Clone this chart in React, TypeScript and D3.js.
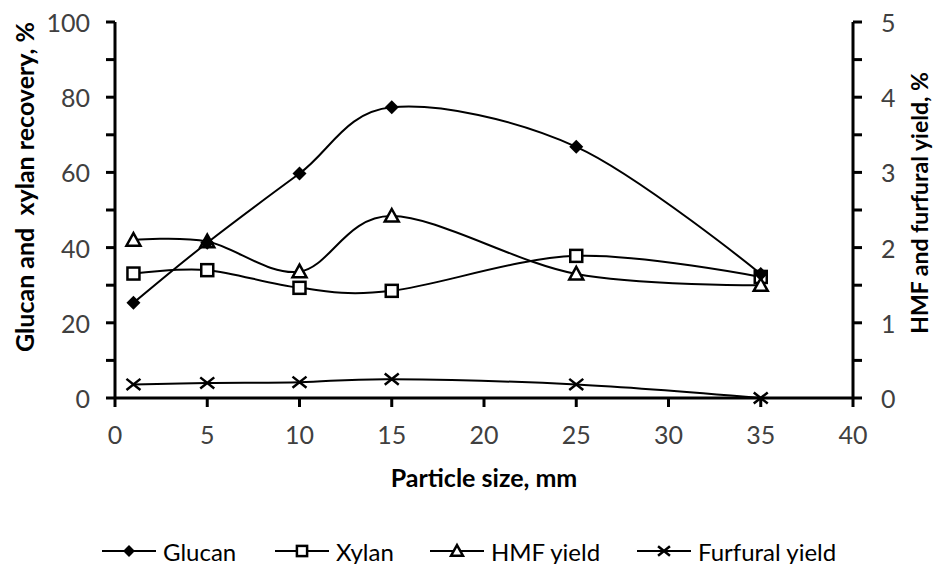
import { useEffect, useRef } from "react"
import * as d3 from "d3"

// particle size, mm
const sizes = [1, 5, 10, 15, 25, 35]
// recovery, % (left axis)
const glucan = [25.3, 41.3, 59.7, 77.3, 66.8, 33.0]
const xylan = [33.1, 34.0, 29.3, 28.5, 37.8, 32.2]
// yield, % (right axis)
const hmf = [2.1, 2.08, 1.68, 2.42, 1.65, 1.5]
const furfural = [0.18, 0.2, 0.21, 0.25, 0.18, 0.0]

const xTicks = [0, 5, 10, 15, 20, 25, 30, 35, 40]
const leftTicks = [0, 10, 20, 30, 40, 50, 60, 70, 80, 90, 100]
const rightTicks = [0, 0.5, 1, 1.5, 2, 2.5, 3, 3.5, 4, 4.5, 5]

const legendNames = ["Glucan", "Xylan", "HMF yield", "Furfural yield"]
const legendX = [102, 275, 430, 637]

const W = 934
const H = 564
const FONT = "Lato, 'Open Sans', sans-serif"

type Marker = "diamond" | "square" | "triangle" | "cross"

export default function App() {
  const svgRef = useRef<SVGSVGElement>(null)

  useEffect(() => {
    if (!svgRef.current) return
    const svg = d3.select(svgRef.current)
    svg.selectAll("*").remove()

    const plot = { left: 115, right: 853, top: 22, bottom: 398 }

    const x = d3.scaleLinear().domain([0, 40]).range([plot.left, plot.right])
    const yL = d3.scaleLinear().domain([0, 100]).range([plot.bottom, plot.top])
    const yR = d3.scaleLinear().domain([0, 5]).range([plot.bottom, plot.top])

    const g = svg.append("g")

    // axes lines
    const axisStroke = 3
    g.append("line")
      .attr("x1", plot.left).attr("x2", plot.left)
      .attr("y1", plot.top).attr("y2", plot.bottom)
      .attr("stroke", "#000").attr("stroke-width", axisStroke)
    g.append("line")
      .attr("x1", plot.right).attr("x2", plot.right)
      .attr("y1", plot.top).attr("y2", plot.bottom)
      .attr("stroke", "#000").attr("stroke-width", axisStroke)
    g.append("line")
      .attr("x1", plot.left).attr("x2", plot.right)
      .attr("y1", plot.bottom).attr("y2", plot.bottom)
      .attr("stroke", "#000").attr("stroke-width", axisStroke)

    // left ticks
    leftTicks.forEach((t) => {
      g.append("line")
        .attr("x1", plot.left - 9).attr("x2", plot.left)
        .attr("y1", yL(t)).attr("y2", yL(t))
        .attr("stroke", "#000").attr("stroke-width", axisStroke)
      if (t % 20 === 0) {
        g.append("text")
          .attr("x", plot.left - 25).attr("y", yL(t))
          .attr("text-anchor", "end")
          .attr("dominant-baseline", "central")
          .attr("font-family", FONT).attr("font-size", 25)
          .attr("fill", "#404040")
          .text(t)
      }
    })

    // right ticks
    rightTicks.forEach((t) => {
      g.append("line")
        .attr("x1", plot.right).attr("x2", plot.right + 9)
        .attr("y1", yR(t)).attr("y2", yR(t))
        .attr("stroke", "#000").attr("stroke-width", axisStroke)
      if (Number.isInteger(t)) {
        g.append("text")
          .attr("x", plot.right + 28).attr("y", yR(t))
          .attr("text-anchor", "start")
          .attr("dominant-baseline", "central")
          .attr("font-family", FONT).attr("font-size", 25)
          .attr("fill", "#404040")
          .text(t)
      }
    })

    // x ticks
    xTicks.forEach((t) => {
      g.append("line")
        .attr("x1", x(t)).attr("x2", x(t))
        .attr("y1", plot.bottom).attr("y2", plot.bottom + 9)
        .attr("stroke", "#000").attr("stroke-width", axisStroke)
      g.append("text")
        .attr("x", x(t)).attr("y", plot.bottom + 36)
        .attr("text-anchor", "middle")
        .attr("dominant-baseline", "central")
        .attr("font-family", FONT).attr("font-size", 25)
        .attr("fill", "#404040")
        .text(t)
    })

    // axis titles
    g.append("text")
      .attr("x", (plot.left + plot.right) / 2).attr("y", 477)
      .attr("text-anchor", "middle")
      .attr("dominant-baseline", "central")
      .attr("font-family", FONT).attr("font-size", 25).attr("font-weight", 700)
      .attr("fill", "#000")
      .text("Particle size, mm")

    g.append("text")
      .attr("transform", `translate(24,${(plot.top + plot.bottom) / 2 - 23}) rotate(-90)`)
      .attr("text-anchor", "middle")
      .attr("dominant-baseline", "central")
      .attr("font-family", FONT).attr("font-size", 25).attr("font-weight", 700)
      .attr("fill", "#000")
      .style("white-space", "pre")
      .text("Glucan and  xylan recovery, %")

    g.append("text")
      .attr("transform", `translate(919,${(plot.top + plot.bottom) / 2 - 7}) rotate(-90)`)
      .attr("text-anchor", "middle")
      .attr("dominant-baseline", "central")
      .attr("font-family", FONT).attr("font-size", 23).attr("font-weight", 700)
      .attr("fill", "#000")
      .text("HMF and furfural yield, %")

    const drawMarker = (sel: d3.Selection<SVGGElement, unknown, null, undefined>, m: Marker, cx: number, cy: number, s = 1) => {
      if (m === "diamond") {
        const r = 7 * s
        sel.append("path")
          .attr("d", `M${cx},${cy - r}L${cx + r},${cy}L${cx},${cy + r}L${cx - r},${cy}Z`)
          .attr("fill", "#000")
      } else if (m === "square") {
        const r = 6 * s
        sel.append("rect")
          .attr("x", cx - r).attr("y", cy - r)
          .attr("width", 2 * r).attr("height", 2 * r)
          .attr("fill", "#fff").attr("stroke", "#000").attr("stroke-width", 2.5)
      } else if (m === "triangle") {
        const r = 7 * s
        sel.append("path")
          .attr("d", `M${cx},${cy - r}L${cx + r},${cy + r * 0.8}L${cx - r},${cy + r * 0.8}Z`)
          .attr("fill", "#fff").attr("stroke", "#000").attr("stroke-width", 2.5)
      } else {
        const r = 7 * s
        sel.append("path")
          .attr("d", `M${cx - r},${cy - r * 0.8}L${cx + r},${cy + r * 0.8}M${cx - r},${cy + r * 0.8}L${cx + r},${cy - r * 0.8}`)
          .attr("fill", "none").attr("stroke", "#000").attr("stroke-width", 2.5)
      }
    }

    const series: { vals: number[]; y: d3.ScaleLinear<number, number>; m: Marker }[] = [
      { vals: furfural, y: yR, m: "cross" },
      { vals: xylan, y: yL, m: "square" },
      { vals: hmf, y: yR, m: "triangle" },
      { vals: glucan, y: yL, m: "diamond" },
    ]

    const line = d3.line<[number, number]>()
      .x((d) => d[0]).y((d) => d[1])
      .curve(d3.curveCardinal.tension(0))

    series.forEach((s) => {
      const pts: [number, number][] = sizes.map((v, i) => [x(v), s.y(s.vals[i])])
      g.append("path")
        .attr("d", line(pts))
        .attr("fill", "none").attr("stroke", "#000").attr("stroke-width", 2)
      const mg = g.append("g")
      pts.forEach((p) => drawMarker(mg, s.m, p[0], p[1]))
    })

    // legend
    const markers: Marker[] = ["diamond", "square", "triangle", "cross"]
    const ly = 551
    legendNames.forEach((name, i) => {
      const lx = legendX[i]
      g.append("line")
        .attr("x1", lx).attr("x2", lx + 54)
        .attr("y1", ly).attr("y2", ly)
        .attr("stroke", "#000").attr("stroke-width", 2)
      const mg = g.append("g")
      drawMarker(mg, markers[i], lx + 27, ly, 0.85)
      g.append("text")
        .attr("x", lx + 61).attr("y", ly)
        .attr("dominant-baseline", "central")
        .attr("font-family", FONT).attr("font-size", 24)
        .attr("fill", "#000")
        .text(name)
    })
  }, [])

  return (
    <svg
      ref={svgRef}
      width={W}
      height={H}
      style={{ position: "absolute", left: 0, top: 0, display: "block", background: "#fff" }}
    />
  )
}
